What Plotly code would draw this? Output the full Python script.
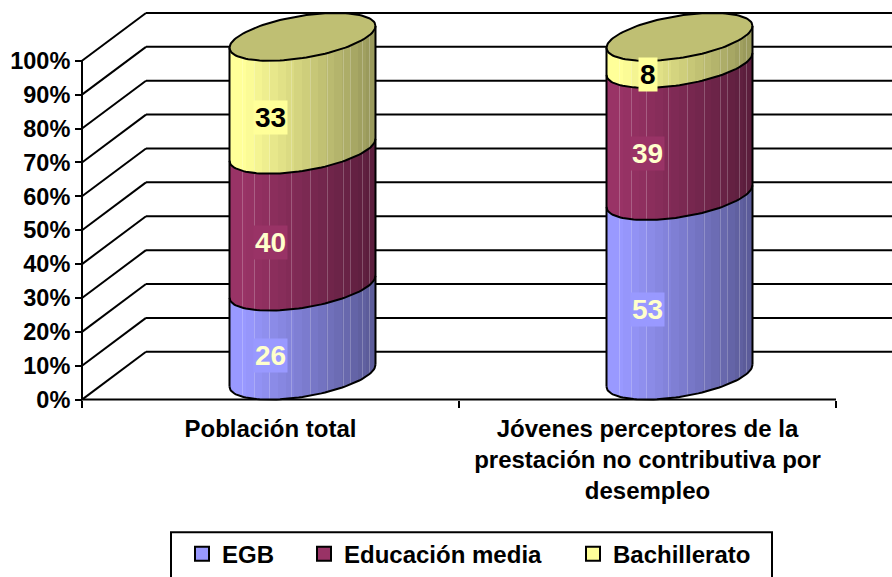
import numpy as np
import plotly.graph_objects as go

categories = ["Población total", "Jóvenes perceptores de la<br>prestación no contributiva por<br>desempleo"]
series_names = ["EGB", "Educación media", "Bachillerato"]
egb = [26, 53]
educacion_media = [40, 39]
bachillerato = [33, 8]
y_ticks = list(range(0, 101, 10))
y_tick_labels = [f"{v}%" for v in y_ticks]

colors = ["#9999FF", "#993366", "#FFFF99"]
label_colors = ["#FFFFCC", "#FFFFCC", "#000000"]
series = [egb, educacion_media, bachillerato]

# chart geometry (pixels -> axis units)
W, H = 892, 577
X0, Y0 = 82, 401
PX_X, PX_Y = 377.0, 3.4
DEPTH_X, DEPTH_Y = 64 / PX_X, 48 / PX_Y
A = 73 / PX_X
K = 11 / PX_Y
B = 21.3 / PX_Y
LIFT = 24 / PX_Y
SHIFT = 32 / PX_X
STRIPE_OFFSETS = [13, 25, 40, 62, 81, 98, 114, 121, 133, 140]


def ellipse(cx, level, t):
    return cx + A * np.cos(t), level + LIFT + K * np.cos(t) + B * np.sin(t)


def hex_rgb(c):
    return np.array([int(c[i:i + 2], 16) for i in (1, 3, 5)], float)


def strip_colors(c, n):
    base = hex_rgb(c)
    out = []
    for i in range(n):
        f = i / (n - 1)
        band = np.floor(f * 18) / 18
        shade = 1.0 if band < 0.08 else 1.0 - 0.42 * (band - 0.08) / 0.92
        rgb = base * shade
        if i in STRIPE_OFFSETS:
            rgb = rgb + (255 - rgb) * 0.22
        out.append("rgb(%d,%d,%d)" % tuple(rgb))
    return out


fig = go.Figure()
n_strips = 146
for ci in range(2):
    cx = ci + 0.5 + SHIFT
    total = sum(s[ci] for s in series)
    xs = cx - A + (np.arange(n_strips) + 0.5) * (2 * A / n_strips)
    c = (xs - cx) / A
    s = -np.sqrt(1 - c ** 2)
    level = 0.0
    for si, vals in enumerate(series):
        share = vals[ci] / total * 100
        bottom = level + LIFT + K * c + B * s
        fig.add_trace(go.Bar(x=xs, y=np.full(n_strips, share), base=bottom, width=2 * A / n_strips,
                             marker=dict(color=strip_colors(colors[si], n_strips), line=dict(width=0)),
                             showlegend=False, hoverinfo="skip"))
        level += share

# legend swatches
for si, name in enumerate(series_names):
    fig.add_trace(go.Scatter(x=[None], y=[None], name=f"<b>{name}</b>", mode="markers",
                             marker=dict(symbol="square", size=14, color=colors[si], line=dict(color="black", width=2)),
                             legend="legend" if si == 0 else f"legend{si + 1}"))

# cylinder outlines and lids
for ci in range(2):
    cx = ci + 0.5 + SHIFT
    total = sum(s[ci] for s in series)
    tt = np.linspace(0, 2 * np.pi, 121)
    lx, ly = ellipse(cx, 100, tt)
    fig.add_trace(go.Scatter(x=lx, y=ly, mode="lines", fill="toself", fillcolor="#BFBF73",
                             line=dict(color="black", width=2), showlegend=False, hoverinfo="skip"))
    lo = np.linspace(np.pi, 2 * np.pi, 61)
    level = 0.0
    for si, vals in enumerate(series):
        ax, ay = ellipse(cx, level, lo)
        fig.add_trace(go.Scatter(x=ax, y=ay, mode="lines", line=dict(color="black", width=2),
                                 showlegend=False, hoverinfo="skip"))
        level += vals[ci] / total * 100
    for t in (np.pi, 0.0):
        sx0, sy0 = ellipse(cx, 0, t)
        sx1, sy1 = ellipse(cx, 100, t)
        fig.add_trace(go.Scatter(x=[sx0, sx1], y=[sy0, sy1], mode="lines", line=dict(color="black", width=2),
                                 showlegend=False, hoverinfo="skip"))

x_range = [-X0 / PX_X, (W - X0) / PX_X]
y_range = [(Y0 - H) / PX_Y, Y0 / PX_Y]

shapes = []
line = dict(color="black", width=2)
for v in y_ticks:
    shapes.append(dict(type="line", xref="x", yref="y", x0=0, y0=v, x1=DEPTH_X, y1=v + DEPTH_Y, line=line, layer="below"))
    shapes.append(dict(type="line", xref="x", yref="y", x0=DEPTH_X, y0=v + DEPTH_Y, x1=x_range[1], y1=v + DEPTH_Y, line=line, layer="below"))
shapes.append(dict(type="line", xref="x", yref="y", x0=0, y0=0, x1=0, y1=100, line=line, layer="below"))
shapes.append(dict(type="line", xref="x", yref="y", x0=0, y0=0, x1=2, y1=0, line=line, layer="below"))
shapes.append(dict(type="rect", xref="paper", yref="paper", x0=171 / W, x1=772 / W, y0=-0.1, y1=(H - 534) / H,
                   line=line, fillcolor="white", layer="below"))

annotations = []
for ci in range(2):
    total = sum(s[ci] for s in series)
    level = 0.0
    for si, vals in enumerate(series):
        share = vals[ci] / total * 100
        annotations.append(dict(x=ci + 0.5, y=level + share / 2, xref="x", yref="y", text=f"<b>{vals[ci]}</b>",
                                showarrow=False, bgcolor=colors[si], borderpad=1,
                                font=dict(family="Liberation Sans", size=28, color=label_colors[si])))
        level += share

font = dict(family="Liberation Sans", size=24, color="black")
tick_font = dict(family="Liberation Sans", size=23.5, color="black")
fig.update_layout(
    width=W, height=H, margin=dict(l=0, r=0, t=0, b=0), autosize=False,
    paper_bgcolor="white", plot_bgcolor="rgba(0,0,0,0)", barmode="overlay", bargap=0,
    font=font, shapes=shapes, annotations=annotations, showlegend=True,
    xaxis=dict(range=x_range, domain=[0, 1], anchor="free", position=(H - Y0) / H, tickmode="array",
               tickvals=[0.5, 1.5], ticktext=[f"<b>{c.replace('<br>', '</b><br><b>')}</b>" for c in categories],
               ticks="", showgrid=False, zeroline=False, showline=False,
               tickfont=font, ticklabelstandoff=12,
               minor=dict(tickmode="array", tickvals=[0, 1, 2], ticks="outside", ticklen=7, tickwidth=2,
                          tickcolor="black", showgrid=False)),
    yaxis=dict(range=y_range, domain=[0, 1], anchor="free", position=X0 / W, tickmode="array",
               tickvals=y_ticks, ticktext=[f"<b>{t}</b>" for t in y_tick_labels], ticks="outside", ticklen=7, tickwidth=2,
               tickcolor="black", showgrid=False, zeroline=False, showline=False, tickfont=tick_font),
    legend=dict(x=182 / W, y=(H - 556) / H, xanchor="left", yanchor="middle", bgcolor="rgba(0,0,0,0)", font=font),
    legend2=dict(x=304 / W, y=(H - 556) / H, xanchor="left", yanchor="middle", bgcolor="rgba(0,0,0,0)", font=font),
    legend3=dict(x=573 / W, y=(H - 556) / H, xanchor="left", yanchor="middle", bgcolor="rgba(0,0,0,0)", font=font),
)
fig.write_html("out.html", config={"displayModeBar": False},
               post_script="document.body.style.margin='0';document.documentElement.style.overflow='hidden';")
